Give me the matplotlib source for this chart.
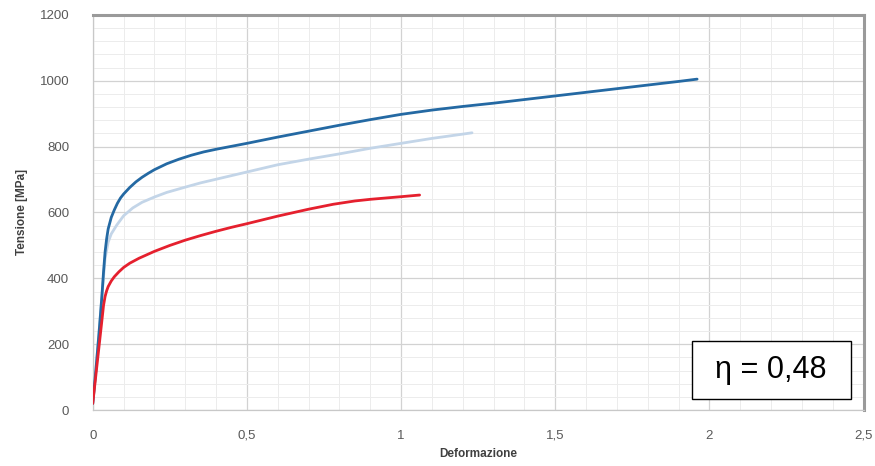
import numpy as np
import matplotlib.pyplot as plt
from matplotlib.patches import Rectangle
from matplotlib.ticker import MultipleLocator, FuncFormatter

plt.rcParams['font.family'] = ['Liberation Sans', 'DejaVu Sans']

# curva blu scuro
eps_blu = [0, 0.01, 0.02, 0.03, 0.035, 0.04, 0.045, 0.05, 0.06, 0.07, 0.08, 0.09, 0.1,
           0.12, 0.14, 0.16, 0.18, 0.2, 0.24, 0.28, 0.32, 0.36, 0.4, 0.45, 0.5,
           0.6, 0.7, 0.8, 0.9, 1.0, 1.1, 1.2, 1.3, 1.4, 1.5, 1.6, 1.7, 1.8, 1.9, 1.96]
sig_blu = [20, 120, 230, 350, 420, 480, 520, 550, 585, 608, 628, 644, 656,
           676, 693, 707, 719, 730, 748, 762, 774, 784, 792, 801, 810,
           829, 847, 865, 882, 898, 911, 922, 932, 943, 954, 965, 976, 987, 998, 1005]

# curva azzurra
eps_az = [0, 0.01, 0.02, 0.03, 0.04, 0.05, 0.06, 0.078, 0.1, 0.13, 0.16, 0.2, 0.24,
          0.3, 0.35, 0.4, 0.5, 0.6, 0.7, 0.8, 0.9, 1.0, 1.1, 1.2, 1.23]
sig_az = [20, 120, 230, 350, 460, 510, 535, 562, 590, 614, 631, 647, 661,
          677, 690, 701, 723, 745, 762, 778, 795, 810, 825, 838, 842]

# curva rossa
eps_ro = [0, 0.01, 0.02, 0.03, 0.035, 0.04, 0.045, 0.05, 0.06, 0.07, 0.085, 0.1, 0.12,
          0.15, 0.2, 0.25, 0.3, 0.35, 0.4, 0.45, 0.5, 0.6, 0.7, 0.78, 0.85, 0.9,
          0.95, 1.0, 1.06]
sig_ro = [20, 105, 190, 275, 318, 345, 362, 375, 392, 405, 420, 433, 446,
          461, 482, 500, 516, 530, 543, 555, 566, 589, 610, 625, 635, 640,
          644, 648, 653]

eta_txt = 'η = 0,48'

fig = plt.figure(figsize=(8.75, 4.66), dpi=100)
ax = fig.add_axes([0.106, 0.12, 0.881, 0.848])

ax.plot(eps_az, sig_az, color='#c3d5e8', lw=2.0, solid_capstyle='round', zorder=3)
ax.plot(eps_blu, sig_blu, color='#2469a3', lw=2.0, solid_capstyle='round', zorder=4)
ax.plot(eps_ro, sig_ro, color='#e5202e', lw=2.0, solid_capstyle='round', zorder=5)

ax.set_xlim(0, 2.5)
ax.set_ylim(0, 1200)
ax.xaxis.set_major_locator(MultipleLocator(0.5))
ax.xaxis.set_minor_locator(MultipleLocator(0.1))
ax.yaxis.set_major_locator(MultipleLocator(200))
ax.yaxis.set_minor_locator(MultipleLocator(40))
ax.xaxis.set_major_formatter(FuncFormatter(lambda v, p: ('%g' % v).replace('.', ',')))

ax.grid(which='major', color='#d2d2d2', lw=0.9)
ax.grid(which='minor', color='#ececec', lw=0.7)
ax.set_axisbelow(True)

ax.tick_params(which='both', length=0, labelsize=9.5, colors='#595959')
ax.tick_params(axis='x', pad=14)
ax.tick_params(axis='y', pad=17)
for s in ['left', 'bottom']:
    ax.spines[s].set_color('#c8c8c8')
    ax.spines[s].set_linewidth(0.9)
for s in ['top', 'right']:
    ax.spines[s].set_color('#9a9a9a')
    ax.spines[s].set_linewidth(2.2)

ax.set_xlabel('Deformazione', fontsize=8.5, fontweight='bold', color='#404040', labelpad=5)
ax.set_ylabel('Tensione [MPa]', fontsize=8.5, fontweight='bold', color='#404040', labelpad=8)

ax.add_patch(Rectangle((0.777, 0.028), 0.206, 0.147, transform=ax.transAxes,
                       facecolor='white', edgecolor='black', lw=1.0, zorder=6))
ax.text(0.880, 0.101, eta_txt, transform=ax.transAxes, ha='center', va='center',
        fontsize=22, color='black', zorder=7)

fig.savefig('out.png', dpi=100)
